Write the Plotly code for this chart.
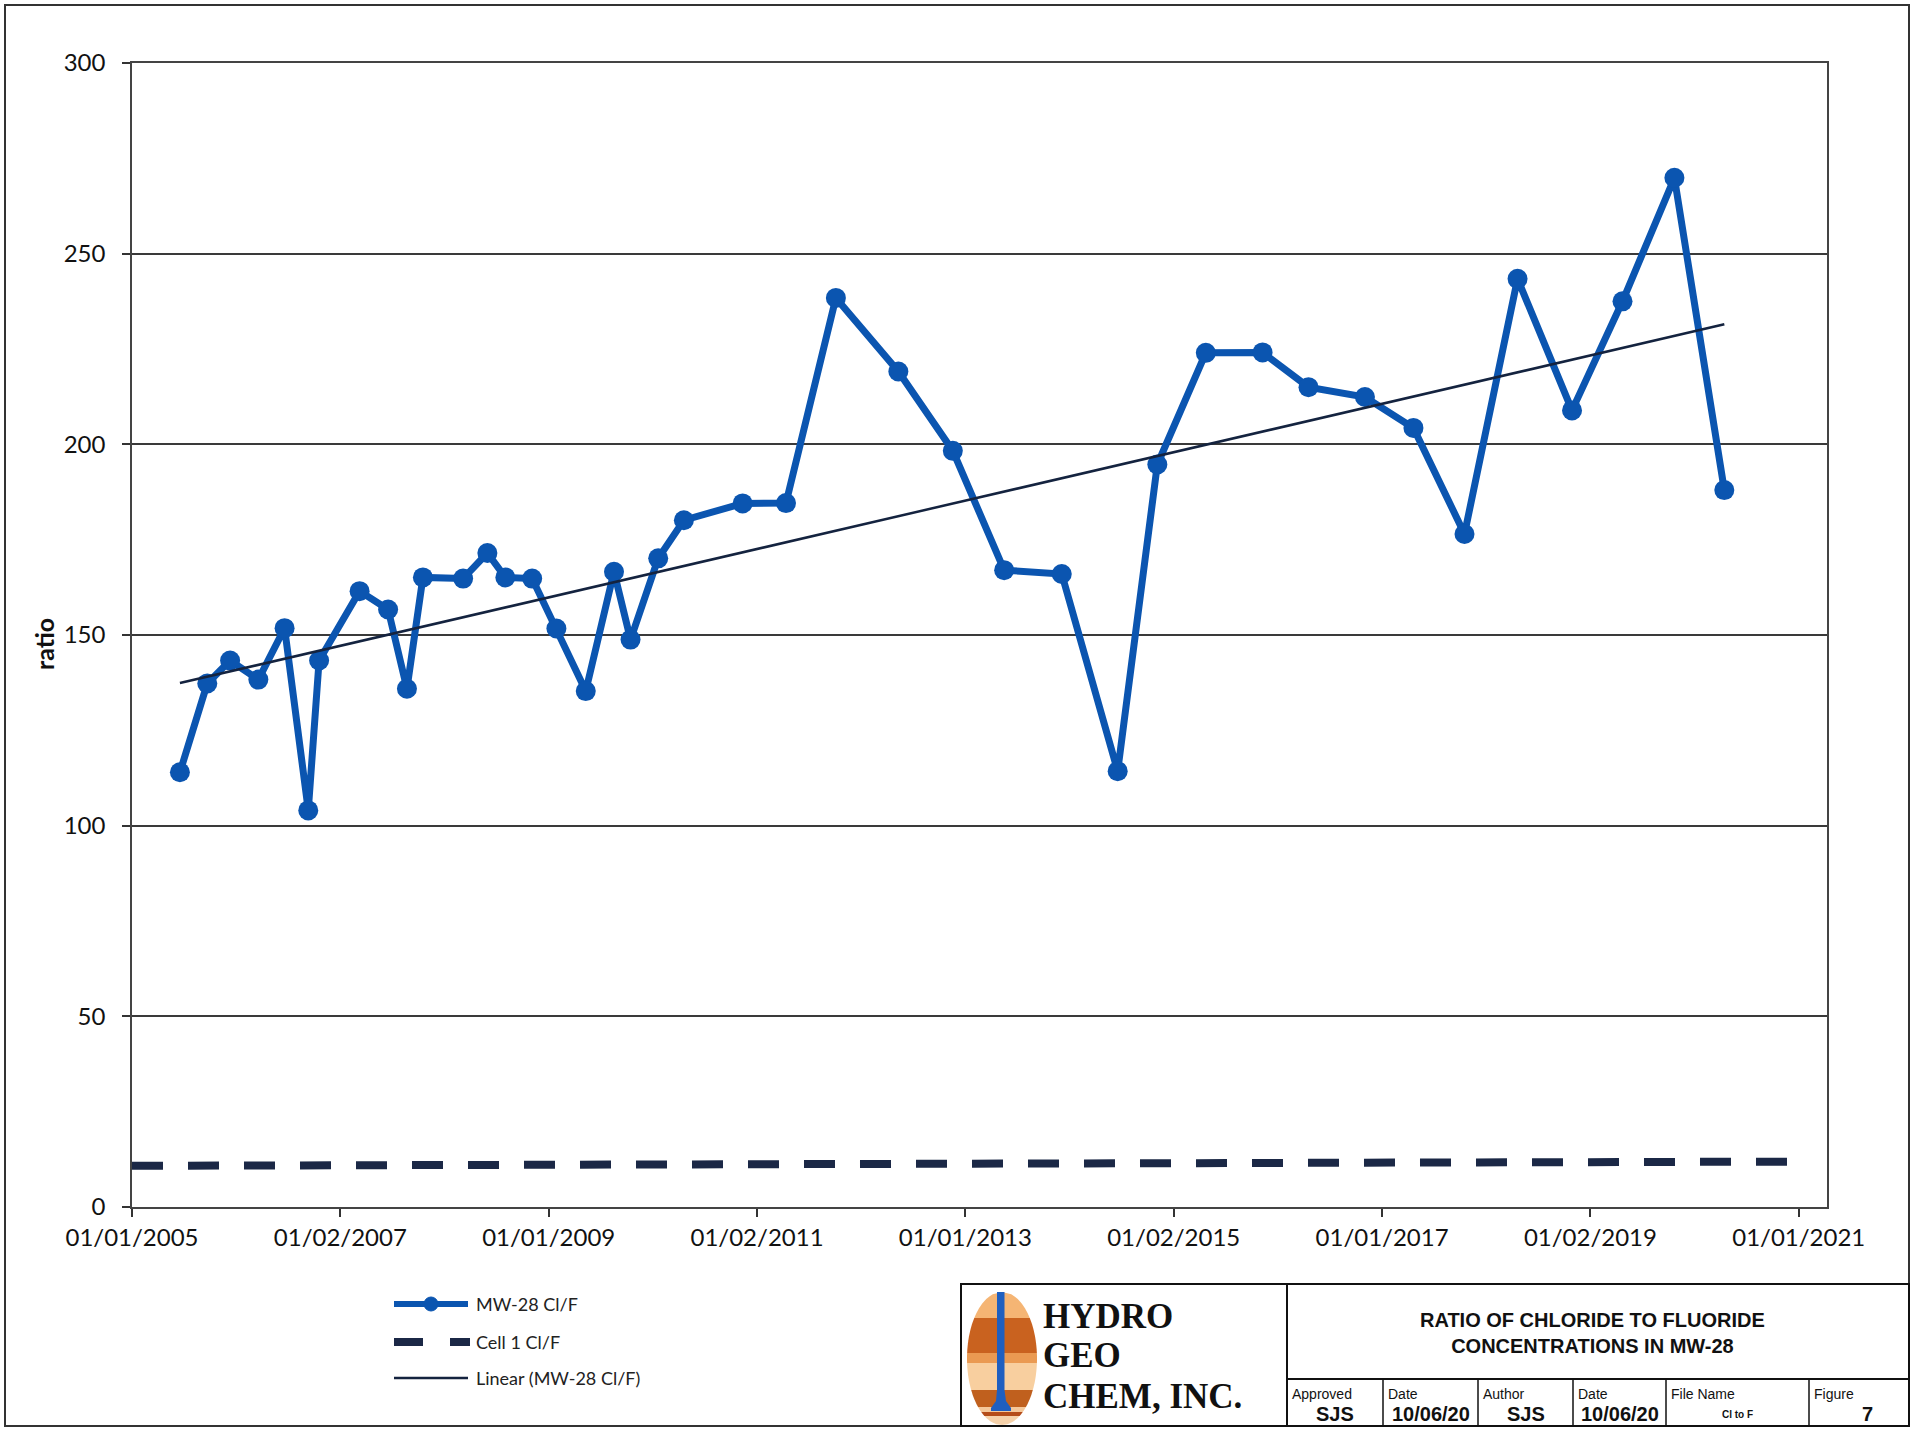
import numpy as np
import pandas as pd
import plotly.graph_objects as go

# ---- data -------------------------------------------------------------
mw28_dates = [
    "2005-06-18", "2005-09-22", "2005-12-11", "2006-03-20", "2006-06-20",
    "2006-09-11", "2006-10-19", "2007-03-10", "2007-06-18", "2007-08-23",
    "2007-10-18", "2008-03-07", "2008-05-31", "2008-08-02", "2008-11-04",
    "2009-01-28", "2009-05-11", "2009-08-18", "2009-10-15", "2010-01-20",
    "2010-04-20", "2010-11-12", "2011-04-13", "2011-10-05", "2012-05-11",
    "2012-11-18", "2013-05-17", "2013-12-05", "2014-06-19", "2014-11-05",
    "2015-04-24", "2015-11-09", "2016-04-18", "2016-11-02", "2017-04-21",
    "2017-10-17", "2018-04-21", "2018-10-29", "2019-04-24", "2019-10-23",
    "2020-04-15",
]
mw28_ratio = [
    114.0, 137.3, 143.3, 138.3, 151.8, 104.0, 143.3, 161.5, 156.7, 135.9,
    165.1, 164.8, 171.5, 165.1, 164.8, 151.7, 135.3, 166.6, 148.8, 170.1,
    180.1, 184.5, 184.6, 238.4, 219.1, 198.3, 167.0, 166.0, 114.3, 194.7,
    224.0, 224.1, 215.0, 212.4, 204.3, 176.5, 243.4, 208.9, 237.5, 269.9,
    188.0,
]
cell1_dates = ["2005-01-01", "2020-12-03"]
cell1_ratio = [10.8, 11.9]

x_tick_labels = ["01/01/2005", "01/02/2007", "01/01/2009", "01/02/2011",
                 "01/01/2013", "01/02/2015", "01/01/2017", "01/02/2019",
                 "01/01/2021"]
legend_labels = ["MW-28 Cl/F", "Cell 1 Cl/F", "Linear (MW-28 Cl/F)"]

# ---- page geometry ------------------------------------------------------
W, H = 1913, 1429
ML, MR, MT, MB = 132, 86, 63, 222
PW, PH = W - ML - MR, H - MT - MB


def px(X):
    return (X - ML) / PW


def py(Y):
    return 1 - (Y - MT) / PH


BLUE = "#0b55b0"
NAVY = "#14233f"

# linear least-squares trend of the MW-28 ratio
d = pd.to_datetime(mw28_dates)
t = np.array((d - d[0]).days, dtype=float)
slope, icpt = np.polyfit(t, mw28_ratio, 1)
trend_x = [d[0], d[-1]]
trend_y = [icpt, icpt + slope * t[-1]]

# major date ticks every 730.5 days from the axis origin
origin = pd.Timestamp("2005-01-01")
tick_vals = [origin + pd.Timedelta(days=730.5 * i) for i in range(len(x_tick_labels))]

fig = go.Figure()
fig.add_trace(go.Scatter(
    x=cell1_dates, y=cell1_ratio, mode="lines", name=legend_labels[1],
    line=dict(color="#1b2846", width=8, dash="31px,25px"),
))
fig.add_trace(go.Scatter(
    x=mw28_dates, y=mw28_ratio, mode="lines+markers", name=legend_labels[0],
    line=dict(color=BLUE, width=7),
    marker=dict(size=20, color=BLUE),
))
fig.add_trace(go.Scatter(
    x=trend_x, y=trend_y, mode="lines", name=legend_labels[2],
    line=dict(color=NAVY, width=2.5),
))

shapes = []
annotations = []

# page frame
shapes.append(dict(type="rect", xref="paper", yref="paper",
                   x0=px(5), x1=px(1909), y0=py(5), y1=py(1426),
                   line=dict(color="#333", width=2), layer="below"))

# ---- legend -------------------------------------------------------------
leg_y = [1304, 1342, 1378]
lx0, lx1 = 394, 468
shapes.append(dict(type="line", xref="paper", yref="paper",
                   x0=px(lx0), x1=px(lx1), y0=py(leg_y[0]), y1=py(leg_y[0]),
                   line=dict(color=BLUE, width=6)))
shapes.append(dict(type="circle", xref="paper", yref="paper",
                   x0=px(424), x1=px(438), y0=py(leg_y[0] - 7), y1=py(leg_y[0] + 7),
                   fillcolor=BLUE, line=dict(color=BLUE, width=1)))
for a, b in [(394, 423), (450, 470)]:
    shapes.append(dict(type="line", xref="paper", yref="paper",
                       x0=px(a), x1=px(b), y0=py(leg_y[1]), y1=py(leg_y[1]),
                       line=dict(color="#1b2846", width=8)))
shapes.append(dict(type="line", xref="paper", yref="paper",
                   x0=px(lx0), x1=px(lx1), y0=py(leg_y[2]), y1=py(leg_y[2]),
                   line=dict(color=NAVY, width=2.5)))
for lab, yy in zip(legend_labels, leg_y):
    annotations.append(dict(text=lab, xref="paper", yref="paper",
                            x=px(474), y=py(yy), xanchor="left", yanchor="middle",
                            showarrow=False,
                            font=dict(family="Lato", size=18, color="#222")))

# y axis title
annotations.append(dict(text="<b>ratio</b>", xref="paper", yref="paper",
                        x=px(44), y=py(644), textangle=-90, showarrow=False,
                        xanchor="center", yanchor="middle",
                        font=dict(family="Lato", size=25, color="#111")))

# ---- title block --------------------------------------------------------
BX0, BX1, BY0, BY1 = 961, 1909, 1284, 1426
DIV_X, ROW_Y = 1287, 1379
COLS = [1287, 1383, 1478, 1573, 1666, 1809, 1909]
line_k = dict(color="#111", width=2)
shapes.append(dict(type="rect", xref="paper", yref="paper",
                   x0=px(BX0), x1=px(BX1), y0=py(BY0), y1=py(BY1),
                   line=line_k, fillcolor="white", layer="below"))
shapes.append(dict(type="line", xref="paper", yref="paper",
                   x0=px(DIV_X), x1=px(DIV_X), y0=py(BY0), y1=py(BY1), line=line_k))
shapes.append(dict(type="line", xref="paper", yref="paper",
                   x0=px(DIV_X), x1=px(BX1), y0=py(ROW_Y), y1=py(ROW_Y), line=line_k))
for cx_ in COLS[1:-1]:
    shapes.append(dict(type="line", xref="paper", yref="paper",
                       x0=px(cx_), x1=px(cx_), y0=py(ROW_Y), y1=py(BY1),
                       line=dict(color="#111", width=1.5)))

annotations.append(dict(
    text="<b>RATIO OF CHLORIDE TO FLUORIDE<br>CONCENTRATIONS IN MW-28</b>",
    xref="paper", yref="paper", x=px(1592), y=py(1333), showarrow=False,
    xanchor="center", yanchor="middle", align="center",
    font=dict(family="Liberation Sans", size=20, color="#111")))

cell_heads = ["Approved", "Date", "Author", "Date", "File Name", "Figure"]
cell_vals = ["SJS", "10/06/20", "SJS", "10/06/20", "Cl to F", "7"]
cell_val_size = [20, 20, 20, 20, 10, 20]
for i, (hd, vl, vs) in enumerate(zip(cell_heads, cell_vals, cell_val_size)):
    left, right = COLS[i], COLS[i + 1]
    annotations.append(dict(text=hd, xref="paper", yref="paper",
                            x=px(left + 3), y=py(1394), xanchor="left",
                            yanchor="middle", showarrow=False,
                            font=dict(family="Liberation Sans", size=14, color="#111")))
    annotations.append(dict(text="<b>%s</b>" % vl, xref="paper", yref="paper",
                            x=px((left + right) / 2 + (8 if i == 5 else 0)),
                            y=py(1414), xanchor="center", yanchor="middle",
                            showarrow=False,
                            font=dict(family="Liberation Sans", size=vs, color="#111")))

for word, yy in zip(["HYDRO", "GEO", "CHEM, INC."], [1316, 1355, 1396]):
    annotations.append(dict(text="<b>%s</b>" % word, xref="paper", yref="paper",
                            x=px(1041), y=py(yy), xanchor="left", yanchor="middle",
                            showarrow=False,
                            font=dict(family="Liberation Serif", size=35, color="#111")))

# logo: striped oval with a blue well casing
ocx, ocy, oa, ob = 1002, 1358.5, 35, 66.5
bands = [1292, 1318, 1353, 1363, 1390, 1407, 1412, 1416, 1425]
band_cols = ["#f5b574", "#c9621f", "#ea9a52", "#f8cf9f",
             "#c0601e", "#f5c89a", "#b54d1a", "#f6d2aa"]


def half_width(y):
    return oa * np.sqrt(max(0.0, 1 - ((y - ocy) / ob) ** 2))


for (ya, yb), col in zip(zip(bands[:-1], bands[1:]), band_cols):
    ys = np.linspace(ya, yb, 12)
    right_pts = [(ocx + half_width(y), y) for y in ys]
    left_pts = [(ocx - half_width(y), y) for y in ys[::-1]]
    pts = right_pts + left_pts
    path = "M " + " L ".join("%.5f,%.5f" % (px(x), py(y)) for x, y in pts) + " Z"
    shapes.append(dict(type="path", xref="paper", yref="paper", path=path,
                       fillcolor=col, line=dict(width=0), layer="above"))

casing = [(997, 1292), (1004.5, 1292), (1004.5, 1390), (1006, 1401), (1011, 1408),
          (1011, 1411), (991, 1411), (991, 1408), (996, 1401), (997, 1390)]
path = "M " + " L ".join("%.5f,%.5f" % (px(x), py(y)) for x, y in casing) + " Z"
shapes.append(dict(type="path", xref="paper", yref="paper", path=path,
                   fillcolor="#1f5fc0", line=dict(width=0), layer="above"))

fig.update_layout(
    width=W, height=H,
    margin=dict(l=ML, r=MR, t=MT, b=MB),
    paper_bgcolor="white", plot_bgcolor="white",
    showlegend=False,
    shapes=shapes, annotations=annotations,
    xaxis=dict(
        type="date", range=["2005-01-01", "2021-04-10"],
        tickvals=tick_vals, ticktext=x_tick_labels,
        ticks="outside", ticklen=8, tickwidth=1.5, tickcolor="#333",
        showgrid=False, showline=True, linecolor="#444", linewidth=1.5,
        mirror=True, zeroline=False,
        tickfont=dict(family="Lato", size=24, color="#111"),
    ),
    yaxis=dict(
        range=[0, 300], tick0=0, dtick=50,
        ticks="outside", ticklen=8, tickwidth=1.5, tickcolor="#333",
        showgrid=True, gridcolor="#3a3a3a", gridwidth=1.5,
        showline=True, linecolor="#444", linewidth=1.5, mirror=True,
        zeroline=False, ticklabelstandoff=12,
        tickfont=dict(family="Lato", size=24, color="#111"),
    ),
)

fig.write_html("out.html")
